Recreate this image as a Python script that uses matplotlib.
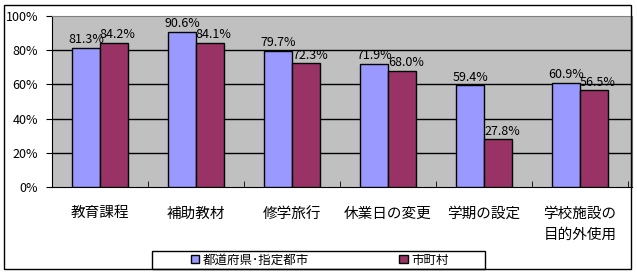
import matplotlib
matplotlib.use("Agg")
import matplotlib.pyplot as plt
import numpy as np
from matplotlib.patches import Rectangle

plt.rcParams["font.family"] = ["Noto Sans CJK JP", "DejaVu Sans"]

categories = ["教育課程", "補助教材", "修学旅行", "休業日の変更", "学期の設定", "学校施設の\n目的外使用"]
prefectures = [81.3, 90.6, 79.7, 71.9, 59.4, 60.9]
municipalities = [84.2, 84.1, 72.3, 68.0, 27.8, 56.5]
series_names = ["都道府県･指定都市", "市町村"]
colors = ["#9999FF", "#993366"]

W, H = 637, 275
fig = plt.figure(figsize=(W / 100, H / 100), dpi=100)
# outer chart border
fig.patches.append(Rectangle((4 / W, 1 - 269 / H), 627 / W, 264 / H,
                             transform=fig.transFigure, fill=False,
                             edgecolor="black", lw=1))
ax = fig.add_axes([52 / W, 1 - 187 / H, 580 / W, 171 / H])
ax.set_facecolor("#C0C0C0")

x = np.arange(len(categories))
w = 0.29
ax.bar(x - w / 2, prefectures, w, color=colors[0], edgecolor="black", lw=1,
       label=series_names[0], zorder=3)
ax.bar(x + w / 2, municipalities, w, color=colors[1], edgecolor="black", lw=1,
       label=series_names[1], zorder=3)

for xi, v in zip(x, prefectures):
    ax.text(xi - w / 2, v + 1, f"{v:.1f}%", ha="center", va="bottom", fontsize=9, zorder=4)
for xi, v in zip(x, municipalities):
    ax.text(xi + w / 2 + 0.04, v + 1, f"{v:.1f}%", ha="center", va="bottom", fontsize=9, zorder=4)

ax.set_ylim(0, 100)
ax.set_xlim(-0.5, len(categories) - 0.5 + 0.04)
ax.set_yticks(range(0, 101, 20))
ax.set_yticklabels([f"{t}%" for t in range(0, 101, 20)], fontsize=9)
for t in range(20, 100, 20):
    ax.axhline(t, color="black", lw=1, zorder=1)
ax.set_xticks(x)
ax.set_xticklabels(categories, fontsize=10.5, linespacing=1.7)
ax.set_xticks(np.arange(len(categories)) + 0.5, minor=True)
ax.tick_params(axis="x", which="major", length=0, pad=14)
ax.tick_params(axis="x", which="minor", length=4, direction="in")
ax.tick_params(axis="y", length=4, direction="out", pad=6)
ax.spines["top"].set_color("#808080")
ax.spines["right"].set_color("#808080")

# legend box
fig.patches.append(Rectangle((152 / W, 1 - 269 / H), 333 / W, 18 / H,
                             transform=fig.transFigure, fill=False,
                             edgecolor="black", lw=1))
fig.legend(loc="center", bbox_to_anchor=(320 / W, 1 - 260 / H),
           ncol=2, fontsize=9, frameon=False,
           handlelength=0.65, handleheight=0.65, handletextpad=0.3,
           columnspacing=7.2, borderpad=0, borderaxespad=0)

fig.savefig("out.png", dpi=100)
